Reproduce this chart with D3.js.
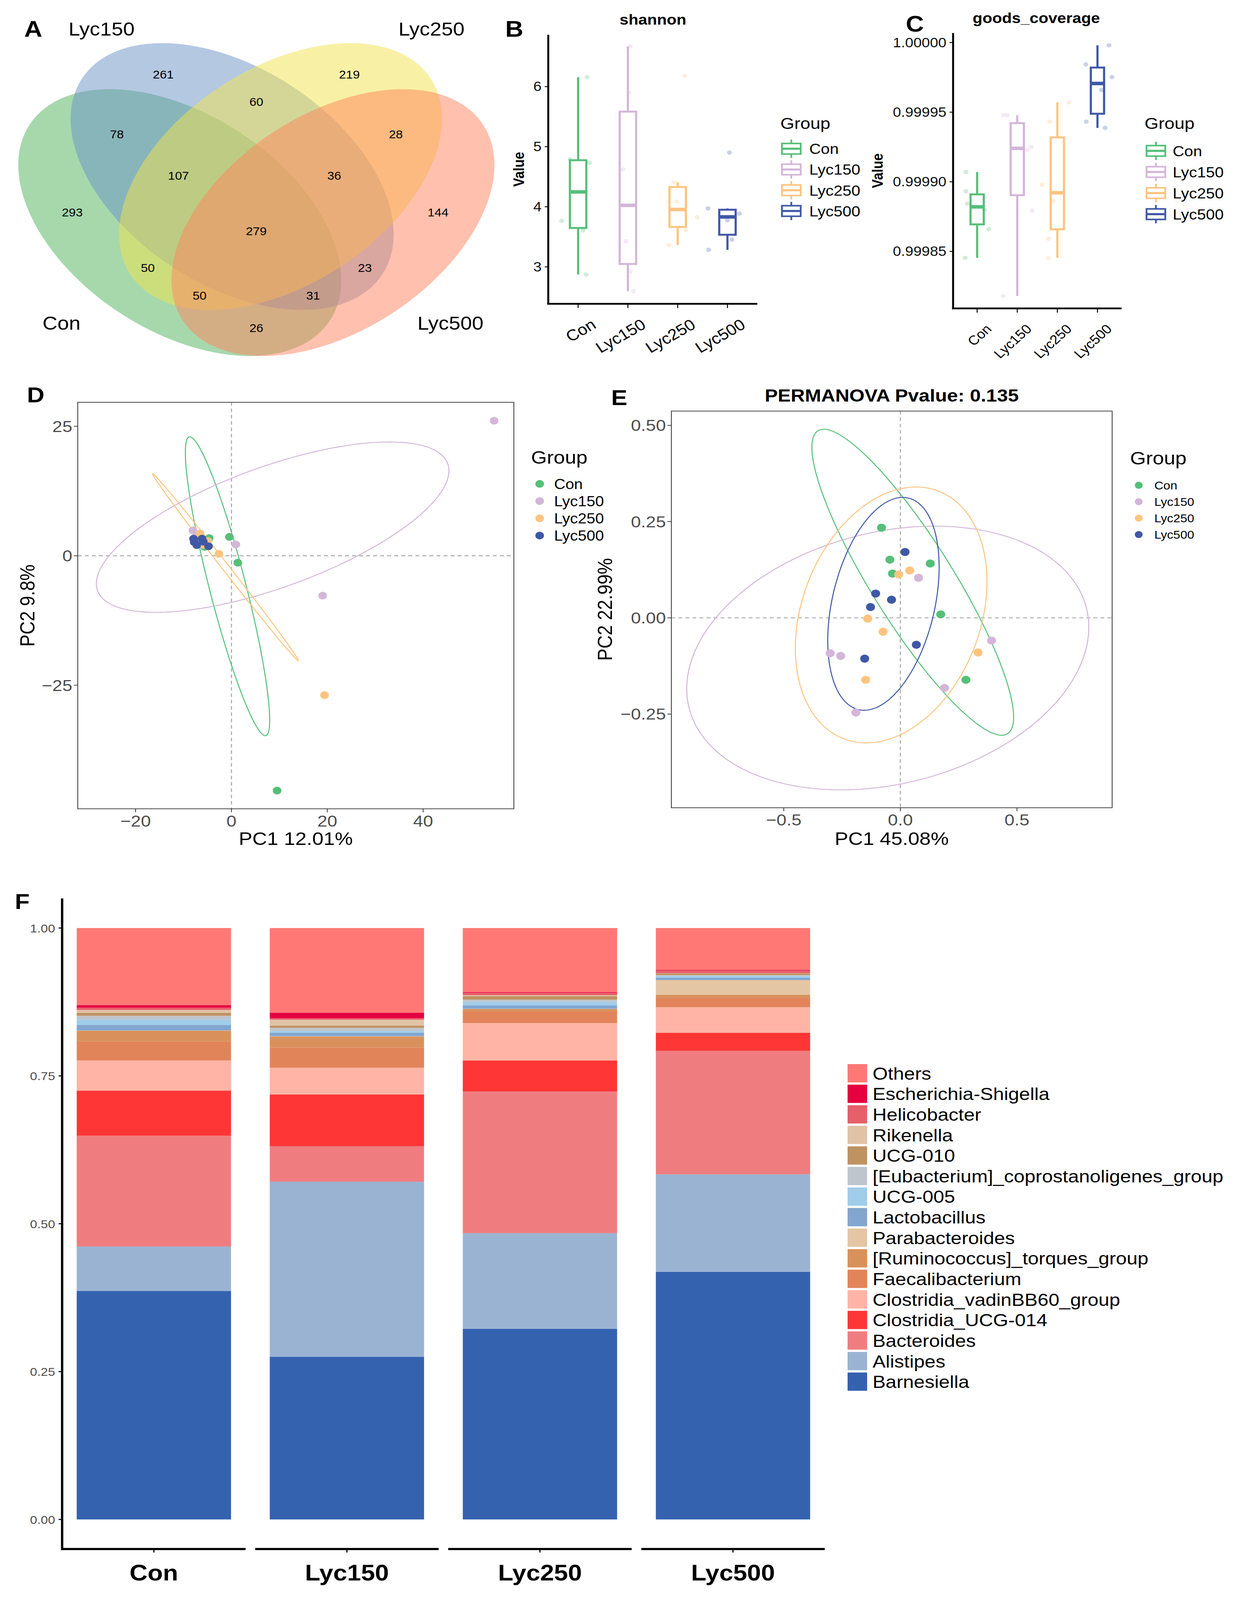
<!DOCTYPE html>
<html><head><meta charset="utf-8">
<script src="https://cdn.jsdelivr.net/npm/d3@7"></script>
<style>html,body{margin:0;padding:0;background:#fff;overflow:hidden;width:100%;height:100%} svg{display:block;width:100vw;height:100vh}</style>
</head><body><svg id="fig" viewBox="0 0 3186 4550" preserveAspectRatio="none"></svg>
<script>
// ---------------- DATA ----------------
const groups = ["Con","Lyc150","Lyc250","Lyc500"];
const groupColors = ["#55BF78","#D3B6D8","#FDC47F","#3F58A6"];

// Panel A: Venn counts
const vennSets = ["Con","Lyc150","Lyc250","Lyc500"];
const vennColors = ["#4DB159","#6991C5","#F1E34B","#FF835D"];
const vennRegions = ["Lyc150","Lyc250","Lyc150&Lyc250","Con&Lyc150","Lyc250&Lyc500",
  "Con&Lyc150&Lyc250","Lyc150&Lyc250&Lyc500","Con","Lyc500","Con&Lyc150&Lyc250&Lyc500",
  "Con&Lyc250","Lyc150&Lyc500","Con&Lyc250&Lyc500","Con&Lyc150&Lyc500","Con&Lyc500"];
const vennCounts = [261,219,60,78,28,107,36,293,144,279,50,23,50,31,26];

// Panel B: shannon values per group
const shannonCon    = [3.765,4.790,4.729,3.608,6.157,2.874];
const shannonLyc150 = [6.670,5.905,4.620,3.428,2.921,2.596];
const shannonLyc250 = [4.410,4.086,3.824,3.611,3.364,6.180];
const shannonLyc500 = [3.973,3.886,3.776,3.454,3.283,4.902];
const shannonTicks  = [3,4,5,6];

// Panel C: goods_coverage values per group
const coverageCon    = [0.9999070,0.9998932,0.9998843,0.9998797,0.9998660,0.9998454];
const coverageLyc150 = [0.9999478,0.9999478,0.9999250,0.9999230,0.9998795,0.9998180];
const coverageLyc250 = [0.9999570,0.9999432,0.9998979,0.9998863,0.9998591,0.9998454];
const coverageLyc500 = [0.9999980,0.9999843,0.9999752,0.9999659,0.9999432,0.9999387];
const coverageTicks  = [0.99985,0.99990,0.99995,1.00000];

// Panel D: PCA scores (PC1, PC2)
const pcaCon    = [[-0.43,3.65],[1.33,-1.33],[9.52,-45.34],[-4.65,3.42],[-5.6,1.72],[-6.2,2.9]];
const pcaLyc150 = [[54.8,26.07],[19.03,-7.7],[0.92,2.18],[-8.05,4.9],[-7.3,3.8],[-6.8,3.2]];
const pcaLyc250 = [[19.43,-26.9],[-2.6,0.37],[-6.55,4.32],[-4.92,2.86],[-6.9,3.6],[-5.8,2.1]];
const pcaLyc500 = [[-7.91,3.31],[-7.77,2.63],[-7.23,2.06],[-6.14,3.31],[-4.78,1.84],[-5.87,2.74]];
const pcaTicksX = [-20,0,20,40];
const pcaTicksY = [-25,0,25];
// ellipse: centre c, conjugate semi-axes a, b (data units)
const pcaEllipses = [
  {group:"Con",    c:[-0.82,-5.88], a:[-7.97,28.85], b:[3.73,0.71]},
  {group:"Lyc150", c:[8.6,5.53],    a:[36.4,12.55],  b:[5.29,-10.63]},
  {group:"Lyc250", c:[-1.24,-2.21], a:[15.19,-18.03],b:[0.6,0.35]}
];

// Panel E: PCoA scores
const pcoaCon    = [[-0.081,0.234],[-0.045,0.151],[-0.034,0.115],[0.128,0.141],[0.173,0.009],[0.281,-0.161]];
const pcoaLyc150 = [[0.078,0.104],[0.391,-0.059],[-0.301,-0.092],[-0.256,-0.099],[0.189,-0.182],[-0.191,-0.246]];
const pcoaLyc250 = [[-0.007,0.1125],[0.040,0.123],[-0.140,-0.002],[-0.074,-0.036],[0.333,-0.090],[-0.149,-0.161]];
const pcoaLyc500 = [[0.020,0.171],[-0.106,0.063],[-0.038,0.047],[-0.128,0.028],[0.0685,-0.070],[-0.153,-0.106]];
const pcoaTicksX = [-0.5,0,0.5];
const pcoaTicksY = [-0.25,0,0.25,0.5];
const pcoaEllipses = [
  {group:"Con",    c:[0.0531,0.0924],  a:[0.403,-0.3946], b:[-0.157,-0.0476]},
  {group:"Lyc150", c:[-0.0541,-0.1044],a:[0.8423,0.1488], b:[0.1833,-0.3085]},
  {group:"Lyc250", c:[-0.0395,0.0075], a:[0.176,0.327],   b:[0.3713,-0.0594]},
  {group:"Lyc500", c:[-0.0726,0.0363], a:[0.1014,0.2754], b:[0.2162,-0.0237]}
];

// Panel F: relative abundance (stack order bottom -> top)
const taxa = ["Barnesiella","Alistipes","Bacteroides","Clostridia_UCG-014","Clostridia_vadinBB60_group",
  "Faecalibacterium","[Ruminococcus]_torques_group","Parabacteroides","Lactobacillus","UCG-005",
  "[Eubacterium]_coprostanoligenes_group","UCG-010","Rikenella","Helicobacter","Escherichia-Shigella","Others"];
const taxaColors = ["#3462AF","#9BB3D3","#EF7D80","#FF3635","#FFB4A6","#E2845A","#D9915B","#E5C6A4",
  "#82A6CF","#9FCDEA","#BFC5CC","#BF9262","#E0C3A6","#E6606A","#E5003F","#FF7876"];
const abundCon    = [0.3862,0.0753,0.1873,0.0762,0.0511,0.0325,0.0178,0.0004,0.0093,0.0090,0.0065,0.0052,0.0047,0.0038,0.0043,0.1304];
const abundLyc150 = [0.2751,0.2960,0.0598,0.0877,0.0451,0.0343,0.0187,0.0004,0.0058,0.0031,0.0053,0.0038,0.0098,0.0026,0.0094,0.1431];
const abundLyc250 = [0.3225,0.1616,0.2394,0.0526,0.0631,0.0199,0.0040,0.0003,0.0057,0.0061,0.0037,0.0059,0.0016,0.0040,0.0012,0.1084];
const abundLyc500 = [0.4188,0.1647,0.2090,0.0303,0.0433,0.0157,0.0051,0.0251,0.0041,0.0030,0.0012,0.0029,0.0004,0.0047,0.0012,0.0705];
const abundTicks  = [0,0.25,0.5,0.75,1];

// jitter offsets (fraction of category step) as seen in the picture
const shannonJitter  = [[-0.33,-0.16,0.23,0.1,0.18,0.16],[0.05,0.02,-0.1,-0.04,0.05,0.11],[-0.08,-0.02,0.39,0.16,-0.18,0.14],[-0.39,0.24,0,0.09,-0.38,0.04]];
const coverageJitter = [[-0.28,-0.28,-0.24,0.19,0.29,-0.3],[-0.35,-0.25,0.35,0.25,0.37,-0.35],[0.28,-0.19,-0.38,-0.1,-0.22,-0.22],[0.29,-0.29,0.36,0.1,-0.28,0.19]];

// ---------------- HELPERS ----------------
const FONT = '"Liberation Sans", Arial, Helvetica, sans-serif';
const svg = d3.select("#fig");
svg.append("rect").attr("width",3186).attr("height",4550).attr("fill","#fff");

function txt(g, x, y, s, o = {}) {
  const t = g.append("text").attr("x", x).attr("y", y).text(s)
    .style("font-family", o.family || FONT).style("font-size", (o.size || 30) + "px")
    .attr("fill", o.fill || "#000");
  if (o.weight) t.style("font-weight", o.weight);
  if (o.anchor) t.attr("text-anchor", o.anchor);
  if (o.baseline) t.attr("dominant-baseline", o.baseline);
  if (o.rotate != null) t.attr("transform", `rotate(${o.rotate},${x},${y})`);
  return t;
}
function line(g, x1, y1, x2, y2, col, w, extra) {
  const l = g.append("line").attr("x1", x1).attr("y1", y1).attr("x2", x2).attr("y2", y2)
    .attr("stroke", col).attr("stroke-width", w);
  if (extra) l.attr("stroke-dasharray", extra);
  return l;
}
function boxStats(vals) {
  const s = vals.slice().sort(d3.ascending);
  const q1 = d3.quantile(s, 0.25), med = d3.quantile(s, 0.5), q3 = d3.quantile(s, 0.75);
  const iqr = q3 - q1;
  const lo = d3.min(s.filter(v => v >= q1 - 1.5 * iqr));
  const hi = d3.max(s.filter(v => v <= q3 + 1.5 * iqr));
  return {q1, med, q3, lo, hi};
}

// ---------------- PANEL A: Venn ----------------
(function () {
  const g = svg.append("g");
  const cx = 656, cy = 600;
  const vx = d3.scaleLinear().domain([-1, 1]).range([cx - 600, cx + 600]);
  const vy = d3.scaleLinear().domain([-1, 1]).range([cy - 600, cy + 600]);
  const ellGeom = [[-0.3267,0.055,39.4],[-0.1033,-0.1633,39.4],[0.1033,-0.1633,-39.4],[0.3267,0.055,-39.4]];
  const ellRx = 0.7933, ellRy = 0.495;
  const regionPos = {
    "Lyc150":[-0.397,-0.647], "Lyc250":[0.397,-0.647], "Lyc150&Lyc250":[0,-0.517],
    "Con&Lyc150":[-0.595,-0.363], "Lyc250&Lyc500":[0.595,-0.363],
    "Con&Lyc150&Lyc250":[-0.332,-0.167], "Lyc150&Lyc250&Lyc500":[0.332,-0.167],
    "Con":[-0.785,0.008], "Lyc500":[0.775,0.008], "Con&Lyc150&Lyc250&Lyc500":[0,0.097],
    "Con&Lyc250":[-0.463,0.27], "Lyc150&Lyc500":[0.463,0.27],
    "Con&Lyc250&Lyc500":[-0.242,0.402], "Con&Lyc150&Lyc500":[0.242,0.402], "Con&Lyc500":[0,0.555]
  };
  const setLabelPos = {"Con":[-0.831,0.563],"Lyc150":[-0.66,-0.832],"Lyc250":[0.747,-0.832],"Lyc500":[0.828,0.563]};
  vennSets.forEach((s, i) => {
    const [ex, ey, ang] = ellGeom[i];
    g.append("ellipse")
      .attr("cx", vx(ex)).attr("cy", vy(ey))
      .attr("rx", vx(ellRx) - vx(0)).attr("ry", vy(ellRy) - vy(0))
      .attr("transform", `rotate(${ang},${vx(ex)},${vy(ey)})`)
      .attr("fill", vennColors[i]).attr("fill-opacity", 0.5).attr("stroke", "none");
  });
  vennRegions.forEach((r, i) => {
    const p = regionPos[r];
    txt(g, vx(p[0]), vy(p[1]) + 11, vennCounts[i], {size: 32, anchor: "middle"});
  });
  vennSets.forEach(s => {
    const p = setLabelPos[s];
    txt(g, vx(p[0]), vy(p[1]), s, {size: 53, anchor: "middle"});
  });
  txt(g, 62, 104, "A", {size: 64, weight: "bold"});
})();

// ---------------- PANELS B & C: boxplots ----------------
function boxPanel(cfg) {
  const g = svg.append("g");
  const x = d3.scalePoint().domain(groups).range([cfg.x0, cfg.x1]).padding(0.6);
  const y = d3.scaleLinear().domain(cfg.domain).range([cfg.yBottom, cfg.yTop]);
  const bw = x.step() * 0.33;
  cfg.series.forEach((vals, i) => {
    const s = boxStats(vals), c = x(groups[i]), col = groupColors[i];
    line(g, c, y(s.hi), c, y(s.q3), col, 5.5);
    line(g, c, y(s.q1), c, y(s.lo), col, 5.5);
    g.append("rect").attr("x", c - bw / 2).attr("y", y(s.q3)).attr("width", bw)
      .attr("height", y(s.q1) - y(s.q3)).attr("fill", "none").attr("stroke", col).attr("stroke-width", 5.5);
    line(g, c - bw / 2, y(s.med), c + bw / 2, y(s.med), col, 10);
  });
  cfg.series.forEach((vals, i) => {
    const c = x(groups[i]);
    g.selectAll(null).data(vals).enter().append("circle")
      .attr("cx", (d, j) => c + cfg.jitter[i][j] * x.step())
      .attr("cy", d => y(d)).attr("r", 6.2)
      .attr("fill", groupColors[i]).attr("fill-opacity", 0.28);
  });
  // axes
  line(g, cfg.x0, cfg.yTop, cfg.x0, cfg.yBottom + 2.5, "#000", 5);
  line(g, cfg.x0 - 2.5, cfg.yBottom, cfg.x1, cfg.yBottom, "#000", 5);
  cfg.ticks.forEach(t => {
    line(g, cfg.x0, y(t), cfg.x0 - 9, y(t), "#000", 2.5);
    txt(g, cfg.x0 - 17, y(t) + 13, cfg.fmt(t), {size: 38, anchor: "end", fill: "#111"});
  });
  groups.forEach(gr => {
    line(g, x(gr), cfg.yBottom, x(gr), cfg.yBottom + 12, "#000", 2.5);
    txt(g, x(gr) + cfg.lblDx, cfg.yBottom + cfg.lblDy, gr,
      {size: cfg.lblSize, anchor: "end", baseline: "hanging", rotate: cfg.lblAngle});
  });
  txt(g, cfg.valueX, (cfg.yTop + cfg.yBottom) / 2, "Value", {size: 38, weight: "bold", anchor: "middle", rotate: -90});
  txt(g, cfg.titleX, cfg.titleY, cfg.title, {size: 41, weight: "bold", anchor: "middle"});
  txt(g, cfg.letterX, cfg.letterY, cfg.letter, {size: 64, weight: "bold"});
  // legend
  txt(g, cfg.legX, 367, "Group", {size: 46});
  groups.forEach((gr, i) => {
    const ky = cfg.legY0 + i * cfg.legStep, kx = cfg.legKeyX, col = groupColors[i];
    line(g, kx, ky - 26, kx, ky + 26, col, 4.5);
    g.append("rect").attr("x", kx - 24).attr("y", ky - 15).attr("width", 48).attr("height", 30)
      .attr("fill", "#fff").attr("stroke", col).attr("stroke-width", 4.5);
    line(g, kx - 24, ky, kx + 24, ky, col, 6);
    txt(g, cfg.legTextX, ky + 15, gr, {size: 41});
  });
}

boxPanel({
  series: [shannonCon, shannonLyc150, shannonLyc250, shannonLyc500], jitter: shannonJitter,
  x0: 1403, x1: 1938, yTop: 99, yBottom: 864, domain: [2.385, 6.862], ticks: shannonTicks,
  fmt: d3.format("d"), lblDx: 32, lblDy: 40, lblSize: 44, lblAngle: -32,
  valueX: 1341, title: "shannon", titleX: 1671, titleY: 70, letter: "B", letterX: 1293, letterY: 104,
  legX: 1997, legY0: 423, legStep: 59, legKeyX: 2025, legTextX: 2071
});
boxPanel({
  series: [coverageCon, coverageLyc150, coverageLyc250, coverageLyc500], jitter: coverageJitter,
  x0: 2439, x1: 2870, yTop: 94, yBottom: 877, domain: [0.9998091, 1.0000068], ticks: coverageTicks,
  fmt: d3.format(".5f"), lblDx: 20, lblDy: 42, lblSize: 37, lblAngle: -45,
  valueX: 2259, title: "goods_coverage", titleX: 2652, titleY: 66, letter: "C", letterX: 2318, letterY: 90,
  legX: 2929, legY0: 429, legStep: 60, legKeyX: 2958, legTextX: 3001
});

// ---------------- PANELS D & E: ordination ----------------
function ordPanel(cfg) {
  const g = svg.append("g");
  const x = d3.scaleLinear().domain(cfg.xDomain).range([cfg.left, cfg.right]);
  const y = d3.scaleLinear().domain(cfg.yDomain).range([cfg.bottom, cfg.top]);
  const clipId = "clip" + cfg.letter;
  g.append("clipPath").attr("id", clipId).append("rect")
    .attr("x", cfg.left).attr("y", cfg.top).attr("width", cfg.right - cfg.left).attr("height", cfg.bottom - cfg.top);
  const inner = g.append("g").attr("clip-path", `url(#${clipId})`);
  line(inner, x(0), cfg.top, x(0), cfg.bottom, "#A8A8A8", 2.7, "10,8");
  line(inner, cfg.left, y(0), cfg.right, y(0), "#A8A8A8", 2.7, "10,8");
  const ts = d3.range(0, 2 * Math.PI + 0.001, Math.PI / 90);
  const path = d3.line().x(d => d[0]).y(d => d[1]);
  cfg.ellipses.forEach(e => {
    const col = groupColors[groups.indexOf(e.group)];
    const pts = ts.map(t => [x(e.c[0] + e.a[0] * Math.cos(t) + e.b[0] * Math.sin(t)),
                             y(e.c[1] + e.a[1] * Math.cos(t) + e.b[1] * Math.sin(t))]);
    inner.append("path").attr("d", path(pts)).attr("fill", "none").attr("stroke", col).attr("stroke-width", 2.6);
  });
  cfg.series.forEach((pts, i) => {
    inner.selectAll(null).data(pts).enter().append("circle")
      .attr("cx", d => x(d[0])).attr("cy", d => y(d[1])).attr("r", cfg.r).attr("fill", groupColors[i]);
  });
  g.append("rect").attr("x", cfg.left).attr("y", cfg.top).attr("width", cfg.right - cfg.left)
    .attr("height", cfg.bottom - cfg.top).attr("fill", "none").attr("stroke", "#333").attr("stroke-width", 2);
  cfg.xTicks.forEach(t => {
    line(g, x(t), cfg.bottom, x(t), cfg.bottom + 10, "#333", 2);
    txt(g, x(t), cfg.bottom + 50, cfg.xFmt(t), {size: 46, anchor: "middle", fill: "#4D4D4D"});
  });
  cfg.yTicks.forEach(t => {
    line(g, cfg.left, y(t), cfg.left - 10, y(t), "#333", 2);
    txt(g, cfg.left - 14, y(t) + 16, cfg.yFmt(t), {size: 46, anchor: "end", fill: "#4D4D4D"});
  });
  txt(g, (cfg.left + cfg.right) / 2, 2403, cfg.xTitle, {size: 52, anchor: "middle"});
  txt(g, cfg.yTitleX, (cfg.top + cfg.bottom) / 2, cfg.yTitle, {size: 52, anchor: "middle", rotate: -90});
  txt(g, cfg.letterX, cfg.letterY, cfg.letter, {size: 62, weight: "bold"});
  if (cfg.title) txt(g, (cfg.left + cfg.right) / 2, 1142, cfg.title, {size: 50, weight: "bold", anchor: "middle"});
  txt(g, cfg.legX, cfg.legTitleY, "Group", {size: 52});
  groups.forEach((gr, i) => {
    const ky = cfg.legY0 + i * cfg.legStep;
    g.append("circle").attr("cx", cfg.legKeyX).attr("cy", ky).attr("r", cfg.legR).attr("fill", groupColors[i]);
    txt(g, cfg.legTextX, ky + cfg.legSize * 0.36, gr, {size: cfg.legSize});
  });
}

const fmtInt = d => d3.format("d")(d);
ordPanel({
  letter: "D", letterX: 69, letterY: 1144,
  left: 199, right: 1315, top: 1144, bottom: 2300, xDomain: [-32.07, 58.93], yDomain: [-48.85, 29.64],
  xTicks: pcaTicksX, yTicks: pcaTicksY, xFmt: fmtInt, yFmt: fmtInt, r: 11,
  series: [pcaCon, pcaLyc150, pcaLyc250, pcaLyc500], ellipses: pcaEllipses,
  xTitle: "PC1 12.01%", yTitle: "PC2 9.8%", yTitleX: 88,
  legX: 1359, legTitleY: 1319, legY0: 1376, legStep: 49, legKeyX: 1381, legR: 11, legTextX: 1418, legSize: 40
});
ordPanel({
  letter: "E", letterX: 1564, letterY: 1152, title: "PERMANOVA Pvalue: 0.135",
  left: 1718, right: 2846, top: 1169, bottom: 2297, xDomain: [-0.982, 0.908], yDomain: [-0.4933, 0.537],
  xTicks: pcoaTicksX, yTicks: pcoaTicksY, xFmt: d3.format(".1f"), yFmt: d3.format(".2f"), r: 11.5,
  series: [pcoaCon, pcoaLyc150, pcoaLyc250, pcoaLyc500], ellipses: pcoaEllipses,
  xTitle: "PC1 45.08%", yTitle: "PC2 22.99%", yTitleX: 1566,
  legX: 2892, legTitleY: 1321, legY0: 1380, legStep: 46.7, legKeyX: 2914, legR: 10, legTextX: 2954, legSize: 32
});

// ---------------- PANEL F: stacked bars ----------------
(function () {
  const g = svg.append("g");
  const abund = [abundCon, abundLyc150, abundLyc250, abundLyc500];
  const rows = groups.map((gr, i) => {
    const o = {group: gr};
    taxa.forEach((t, k) => o[t] = abund[i][k]);
    return o;
  });
  const stack = d3.stack().keys(taxa)(rows);
  const fx = d3.scaleBand().domain(groups).range([159, 2110.5]).paddingInner(0.0496).paddingOuter(0);
  const y = d3.scaleLinear().domain([-0.05, 1.05]).range([4405, 2555]);
  const barW = fx.bandwidth() * 0.841;
  const color = d3.scaleOrdinal().domain(taxa).range(taxaColors);
  stack.forEach(layer => {
    g.selectAll(null).data(layer).enter().append("rect")
      .attr("x", d => fx(d.data.group) + (fx.bandwidth() - barW) / 2)
      .attr("y", d => y(d[1])).attr("width", barW)
      .attr("height", d => Math.max(0, y(d[0]) - y(d[1])))
      .attr("fill", color(layer.key));
  });
  // axes
  line(g, 159, 2555, 159, 4408, "#000", 6);
  groups.forEach(gr => {
    line(g, fx(gr) - (gr === groups[0] ? 3 : 0), 4405, fx(gr) + fx.bandwidth(), 4405, "#000", 6);
    const c = fx(gr) + fx.bandwidth() / 2;
    line(g, c, 4405, c, 4415, "#000", 3);
    txt(g, c, 4494, gr, {size: 64, weight: "bold", anchor: "middle"});
  });
  abundTicks.forEach(t => {
    line(g, 159, y(t), 150, y(t), "#000", 3);
    txt(g, 141, y(t) + 12, d3.format(".2f")(t), {size: 33, anchor: "end", fill: "#4D4D4D"});
  });
  txt(g, 38, 2585, "F", {size: 62, weight: "bold"});
  // legend (top -> bottom: reversed stack order)
  const legendTaxa = taxa.slice().reverse();
  const ly = d3.scalePoint().domain(legendTaxa).range([3052, 3929]);
  legendTaxa.forEach(t => {
    g.append("rect").attr("x", 2169).attr("y", ly(t) - 26).attr("width", 50).attr("height", 52).attr("fill", color(t));
    txt(g, 2233, ly(t) + 18, t, {size: 50});
  });
})();
</script>
</body></html>
